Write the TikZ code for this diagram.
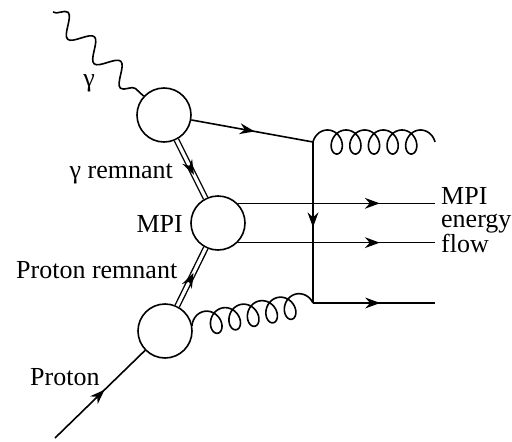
\documentclass[tikz,border=0pt]{standalone}
\usepackage{fontspec}
\setmainfont{Liberation Serif}
\usetikzlibrary{decorations.pathmorphing,decorations.markings,calc}
\tikzset{
  blob/.style={circle,draw,line width=1.6pt,minimum size=54pt,inner sep=0pt,fill=white},
  lbl/.style={inner sep=0pt,font=\fontsize{26}{23}\selectfont},
  ln/.style={line width=1.6pt},
  dbl/.style={double,double distance=3.2pt,line width=1.4pt},
  midarrow/.style={postaction={decorate},decoration={markings,
    mark=at position #1 with {\fill (0pt,0pt) -- (-15pt,5.5pt) -- (-10pt,0pt) -- (-15pt,-5.5pt) -- cycle;}}},
  photon/.style={ln,decorate,decoration={snake,amplitude=10pt,segment length=36pt}},
}
% gluon: 5 loops, first arc on the left of the direction, ends on an arc
\newcommand\mygluon[2]{%
  \draw[ln] let \p1=(#1), \p2=(#2),
    \n1={atan2(\y2-\y1,\x2-\x1)}, \n2={veclen(\x2-\x1,\y2-\y1)},
    \n3={\n2/(34.5575+6.6)} in
  plot[domain=0:34.5575, samples=320, variable=\t]
  ({\x1 + (\n3*\t - 3.3*\n3*cos(deg(\t)) + 3.3*\n3)*cos(\n1) - 12*sin(deg(\t))*sin(\n1)},
   {\y1 + (\n3*\t - 3.3*\n3*cos(deg(\t)) + 3.3*\n3)*sin(\n1) + 12*sin(deg(\t))*cos(\n1)});
}
\begin{document}
\begin{tikzpicture}[x=1pt,y=-1pt]
\useasboundingbox (0,0) rectangle (512,442);
% blobs
\node[blob] (g) at (164,115) {};
\node[blob] (mpi) at (218,223) {};
\node[blob] (p) at (165,331) {};
% coordinates
\coordinate (ph0) at (53,12);
\coordinate (pr0) at (55,438);
\coordinate (v1) at (313,142);
\coordinate (v2) at (313,303);
\coordinate (e1) at (435,142);
\coordinate (e2) at (435,303);
\coordinate (ex) at (435,0);
\coordinate (pg) at ($(p)!27.5pt!(v2)$);
% photon
\draw[photon] (ph0) -- (g);
% proton
\draw[ln,midarrow=0.55] (pr0) -- (p);
% remnants
\draw[dbl] (g) -- (mpi);
\path[midarrow=0.6] (g) -- (mpi);
\draw[dbl] (p) -- (mpi);
\path[midarrow=0.57] (p) -- (mpi);
% quark line
\draw[ln,midarrow=0.52] (g) -- (v1);
\draw[ln,midarrow=0.53] (v1) -- (v2);
\draw[ln,midarrow=0.55] (v2) -- (e2);
% MPI outgoing
\draw[ln,midarrow=0.72] (mpi.45) -- (mpi.45 -| ex);
\draw[ln,midarrow=0.72] (mpi.-45) -- (mpi.-45 -| ex);
% gluons
\mygluon{v1}{e1}
\mygluon{pg}{v2}
% labels
\node[lbl,anchor=center] (lg) at (89,83) {γ};
\node[lbl,anchor=base east] (lgr) at (173,178) {γ remnant};
\node[lbl,anchor=base east] (lmpi) at (183,232) {MPI};
\node[lbl,anchor=base west] (lpr) at (16,278) {Proton remnant};
\node[lbl,anchor=base west] (lp) at (30,385) {Proton};
\node[lbl,anchor=north west,align=left] (r1) at (441,187) {MPI\\energy\\flow};
\end{tikzpicture}
\end{document}
